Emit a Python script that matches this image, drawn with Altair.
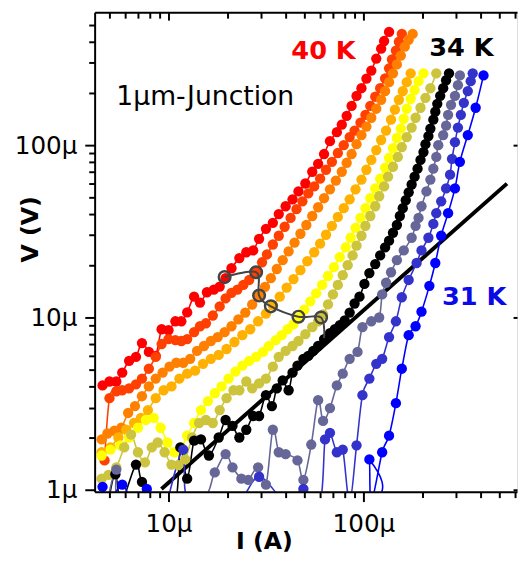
import altair as alt
import pandas as pd

# ---------------- data (I in µA, V in µV) ----------------
temps = ["40 K", "39 K", "38 K", "37 K", "36 K", "35 K", "34 K", "33 K", "32 K", "31 K"]
colors = ["#FF0000", "#FF4000", "#FF8000", "#FFB000", "#FFFF00",
          "#CCC43C", "#000000", "#666699", "#3333CC", "#0000FF"]

I_40 = [4.59, 4.98, 5.40, 5.79, 6.28, 6.81, 7.31, 7.93, 8.60, 9.22, 10.0, 10.85, 11.64, 12.47, 13.53, 14.51,
        15.75, 17.08, 18.31, 19.63, 21.05, 23.10, 25.07, 27.19, 29.16, 31.63, 34.31, 36.79, 39.91, 43.30, 46.43,
        50.37, 54.64, 58.58, 62.82, 67.36, 73.07, 77.45, 82.08, 86.99, 92.21, 97.73, 103.6, 109.8, 116.4, 123.3,
        127.7, 135.4]
V_40 = [4.03, 4.25, 4.25, 4.78, 5.60, 5.90, 7.10, 6.31, 5.99, 8.54, 8.43, 9.50, 9.50, 10.7, 13.2, 12.2, 14.0,
        14.5, 15.1, 16.9, 19.3, 22.1, 23.9, 24.5, 28.6, 32.7, 35.4, 39.8, 44.2, 48.5, 53.9, 59.9, 70.1, 77.9,
        88.8, 105.5, 119, 131.5, 148, 169, 193, 214, 243, 271, 318, 363, 402, 454]

I_39 = [4.70, 4.98, 5.40, 5.79, 6.28, 6.81, 7.31, 7.93, 8.60, 9.22, 10.0, 10.85, 11.64, 12.47, 13.53, 14.51,
        15.56, 16.88, 18.31, 19.63, 21.05, 22.57, 24.21, 25.96, 28.16, 30.19, 32.00, 34.31, 36.79, 39.45, 42.30,
        45.36, 48.64, 52.15, 55.92, 59.96, 64.29, 68.94, 73.92, 79.27, 85.00, 90.09, 96.60, 102.4, 108.5, 115.0,
        121.9, 129.2, 135.4, 140.1, 146.8, 152.0, 157.4]
V_39 = [1.48, 3.40, 3.73, 3.78, 3.88, 4.09, 4.42, 5.04, 5.90, 7.01, 7.49, 7.39, 7.30, 7.49, 8.21, 8.89, 9.25,
        10.26, 11.59, 12.9, 13.9, 14.5, 15.45, 16.5, 18.3, 20.9, 23.2, 26.5, 29.8, 33.6, 37.8, 42.5, 47.2, 52.5,
        57.6, 63.9, 72.0, 80.0, 90.0, 100, 111.4, 121.5, 135, 150, 169, 191, 214, 244, 279, 314, 354, 398, 442]

I_38 = [4.54, 4.86, 5.28, 5.73, 6.21, 6.73, 7.31, 7.93, 8.60, 9.33, 10.12, 10.97, 11.91, 12.92, 14.01, 15.21,
        16.50, 17.89, 19.41, 21.05, 22.84, 24.78, 26.88, 29.16, 31.27, 33.52, 35.95, 38.54, 41.33, 44.32, 47.52,
        50.96, 54.64, 58.58, 62.82, 67.36, 72.22, 77.45, 82.08, 86.99, 92.21, 97.73, 103.6, 109.8, 116.4, 123.3,
        129.2, 135.4, 141.8, 148.5, 155.6, 163.0, 170.7, 178.9]
V_38 = [1.96, 2.12, 2.20, 2.29, 2.79, 3.06, 3.49, 3.98, 4.42, 4.78, 5.18, 5.46, 5.46, 5.75, 6.39, 6.83, 7.30,
        7.69, 8.21, 8.89, 9.75, 10.67, 11.89, 13.4, 15.05, 16.9, 19.1, 21.5, 24.2, 27.2, 30.6, 34.4, 38.8, 43.6,
        49.2, 55.4, 62.3, 70.1, 79.0, 88.8, 101.3, 114.4, 128.1, 144.2, 162.7, 183.4, 206, 232, 261, 294, 331,
        373, 409, 442]

I_37 = [4.54, 5.04, 5.53, 6.07, 6.66, 7.22, 7.84, 8.60, 9.44, 10.36, 11.37, 12.47, 13.69, 15.03, 16.50, 18.10,
        19.86, 21.80, 23.93, 26.26, 28.82, 31.63, 34.31, 37.22, 40.38, 43.80, 47.52, 51.55, 55.92, 59.96, 64.29,
        68.94, 73.92, 79.27, 85.00, 91.14, 97.73, 103.6, 109.8, 116.4, 123.3, 130.7, 138.6, 145.1, 152.0, 159.2,
        166.8, 174.8]
V_37 = [1.65, 1.76, 2.01, 2.23, 2.44, 2.61, 2.90, 3.40, 3.78, 3.98, 4.42, 4.72, 4.91, 5.38, 5.75, 6.06, 6.56,
        7.20, 7.89, 8.54, 9.50, 10.53, 11.74, 13.2, 14.9, 16.7, 18.8, 21.2, 23.9, 26.8, 30.2, 34.0, 38.3, 43.1,
        48.5, 55.4, 63.1, 72.0, 82.1, 93.6, 107.1, 121.5, 140.5, 160.6, 183.4, 206, 232, 261]

I_36 = [4.54, 5.04, 5.66, 6.28, 6.97, 7.65, 8.40, 9.11, 9.88, 10.72, 11.64, 12.47, 13.53, 14.68, 15.93, 17.28,
        18.74, 20.33, 22.05, 23.93, 25.96, 28.16, 30.55, 32.75, 35.53, 38.10, 40.85, 43.80, 46.43, 49.78, 53.38,
        57.24, 61.37, 65.81, 70.56, 75.66, 81.13, 85.99, 91.14, 96.60, 102.4, 108.5, 115.0, 121.9, 129.2, 135.4,
        141.8, 148.5, 155.6, 161.1, 166.8, 174.8, 183.1, 191.8, 203.3]
V_36 = [1.58, 1.71, 1.81, 2.01, 2.29, 2.54, 2.61, 2.29, 1.88, 1.65, 1.76, 2.06, 2.44, 2.90, 3.27, 3.63, 3.98,
        4.42, 4.85, 5.25, 5.60, 5.91, 6.31, 6.83, 7.39, 7.89, 8.54, 9.13, 9.99, 11.1, 12.4, 13.8, 15.45, 17.4,
        19.6, 22.4, 25.5, 29.0, 33.1, 37.8, 43.1, 49.2, 56.1, 63.9, 73.9, 84.3, 96.1, 110.0, 124.8, 142.3, 162.7,
        185.8, 208.9, 235, 261]

I_35 = [4.54, 4.92, 5.40, 5.93, 6.43, 6.97, 7.57, 8.21, 8.80, 9.55, 10.36, 11.24, 12.19, 13.22, 14.35, 15.56,
        16.88, 18.31, 19.86, 21.55, 23.10, 25.07, 26.88, 29.16, 31.63, 34.31, 36.79, 39.91, 43.30, 46.43, 50.37,
        54.64, 58.58, 62.09, 65.81, 69.75, 73.92, 78.35, 83.04, 88.01, 92.21, 97.73, 102.4, 108.5, 115.0, 120.5,
        127.7, 133.8, 141.8, 150.2, 157.4, 166.8, 176.8, 185.2, 196.3, 208.1, 220.6, 236.5]
V_35 = [1.16, 1.22, 1.35, 1.76, 2.09, 1.65, 1.44, 1.76, 1.88, 1.65, 1.40, 1.39, 1.50, 2.01, 2.44, 2.54, 2.44,
        2.90, 3.40, 3.78, 3.78, 4.25, 3.88, 4.14, 4.42, 5.18, 5.91, 6.39, 6.83, 7.30, 8.00, 8.78, 9.50, 10.4,
        11.9, 13.6, 15.45, 17.6, 20.1, 22.9, 26.1, 29.8, 34.0, 38.8, 44.2, 50.5, 57.6, 65.6, 74.9, 85.4, 97.4,
        111.4, 126.4, 144.2, 164.8, 188.2, 214, 261]

I_34 = [4.92, 5.34, 5.73, 6.81, 7.31, 8.80, 10.85, 11.50, 12.47, 13.53, 14.68, 16.12, 18.10, 19.63, 21.30, 23.10,
        25.07, 27.19, 29.16, 31.63, 33.92, 35.95, 38.54, 41.33, 43.30, 45.89, 49.21, 52.15, 55.27, 58.58, 62.82,
        67.36, 71.39, 75.66, 80.19, 85.00, 90.09, 95.48, 101.2, 107.3, 115.0, 121.9, 129.2, 135.4, 141.8, 148.5,
        153.8, 159.2, 164.9, 170.7, 176.8, 183.1, 189.6, 196.3, 203.3, 208.1, 215.5, 220.6, 228.4, 233.8, 239.3,
        247.7, 256.6, 265.6, 275.0]
V_34 = [0.85, 1.23, 0.85, 1.40, 1.11, 0.85, 0.85, 1.76, 1.16, 1.93, 1.96, 1.58, 2.01, 2.54, 2.35, 2.01, 2.23,
        2.68, 2.68, 3.54, 3.06, 3.88, 4.31, 3.78, 4.78, 5.25, 5.75, 5.98, 6.39, 6.83, 7.49, 8.10, 8.54, 9.01,
        9.62, 10.67, 12.05, 13.2, 15.66, 18.1, 20.4, 22.9, 25.5, 27.9, 31.0, 34.4, 38.8, 43.1, 47.9, 53.2, 59.1,
        65.6, 73.0, 82.1, 91.2, 101.3, 112.9, 124.8, 140.5, 156.4, 173.7, 193.3, 214, 238, 261]

I_33 = [4.92, 5.40, 5.86, 14.01, 17.28, 19.63, 21.30, 23.65, 25.66, 28.82, 31.63, 34.31, 36.79, 39.91, 45.89,
        49.21, 54.01, 58.58, 62.09, 67.36, 73.07, 78.35, 85.00, 93.28, 98.87, 109.8, 120.5, 124.8, 130.7, 138.6,
        148.5, 161.1, 176.8, 185.2, 191.8, 198.6, 210.5, 220.6, 228.4, 236.5, 242.1, 256.6, 265.6, 271.9, 281.5,
        294.9, 305.4, 312.6]
V_33 = [0.91, 1.31, 0.85, 0.85, 1.26, 1.61, 1.35, 1.16, 1.14, 1.35, 1.07, 2.23, 1.65, 1.61, 1.48, 1.14, 1.83,
        3.31, 2.51, 2.98, 4.03, 4.72, 5.75, 6.31, 8.78, 9.50, 9.99, 13.6, 15.9, 18.3, 21.5, 24.5, 29.0, 34.0,
        37.8, 44.2, 53.9, 63.1, 73.0, 85.4, 100.0, 114.4, 129.8, 150, 171.4, 193.3, 223, 254]

I_32 = [9.88, 11.91, 12.77, 22.31, 29.16, 39.91, 49.21, 59.96, 63.55, 67.36, 73.07, 78.35, 85.00, 92.21, 98.87,
        107.3, 116.4, 124.8, 135.4, 146.8, 157.4, 170.7, 187.4, 198.6, 215.5, 228.4, 236.5, 250.6, 265.6, 278.3,
        284.8, 294.9, 305.4, 316.2, 327.5, 343.1, 355.2, 363.6]
V_32 = [0.85, 1.71, 0.85, 0.85, 1.19, 0.85, 1.01, 0.85, 1.96, 2.14, 1.65, 1.71, 0.85, 1.81, 3.54, 4.42, 5.38,
        5.75, 7.69, 9.50, 13.1, 16.5, 20.7, 24.5, 29.0, 34.9, 40.3, 47.2, 56.1, 67.4, 83.2, 104, 126.4, 150, 176,
        206, 235, 261]

I_31 = [4.59, 4.92, 5.79, 6.58, 7.74, 8.80, 103.6, 107.3, 109.8, 124.8, 135.4, 146.8, 157.4, 170.7, 185.2,
        198.6, 218.0, 233.8, 250.6, 271.9, 294.9, 312.6, 343.1, 376.5, 413.2]
V_31 = [1.04, 0.85, 1.07, 0.85, 1.01, 0.85, 0.85, 1.50, 0.85, 1.65, 2.06, 3.18, 5.04, 7.89, 8.89, 10.8, 15.25,
        20.7, 29.8, 40.3, 56.1, 80.0, 114.4, 164.8, 254]

# ohmic reference line
ohm_I = [9.2, 545.0]
ohm_V = [1.01, 59.8]

# open-circle transition points and their connecting line
circ_I = [19.41, 28.16, 29.16, 33.52, 46.43, 60.66, 62.82]
circ_V = [17.15, 18.3, 13.4, 11.6, 10.1, 9.99, 7.59]
circ_ring = [True, True, True, True, True, True, False]

# annotations
ann_text = ["40 K", "34 K", "31 K"]
ann_I = [62.4, 318.0, 370.0]
ann_V = [318.0, 331.0, 11.87]
ann_color = ["#FF0000", "#000000", "#0A0AE8"]
junc_text = ["1µm-Junction"]
junc_I = [5.40]
junc_V = [171.5]

# ---------------- tables ----------------
curves = [(I_40, V_40), (I_39, V_39), (I_38, V_38), (I_37, V_37), (I_36, V_36),
          (I_35, V_35), (I_34, V_34), (I_33, V_33), (I_32, V_32), (I_31, V_31)]
rows = []
for t, (Is, Vs) in zip(temps, curves):
    for k, (i, v) in enumerate(zip(Is, Vs)):
        rows.append({"T": t, "I": i, "V": v, "k": k})
df = pd.DataFrame(rows)
ohm_df = pd.DataFrame({"I": ohm_I, "V": ohm_V})
circ_df = pd.DataFrame({"I": circ_I, "V": circ_V, "ring": circ_ring, "k": list(range(len(circ_I)))})
ann_df = pd.DataFrame({"label": ann_text, "I": ann_I, "V": ann_V, "color": ann_color})
junc_df = pd.DataFrame({"label": junc_text, "I": junc_I, "V": junc_V})

# ---------------- scales & axes ----------------
W, H = 429, 487
FONT = "DejaVu Sans"
xs = alt.Scale(type="log", domain=[4.18, 613.8], nice=False)
ys = alt.Scale(type="log", domain=[0.974, 590.7], nice=False)
major_x = [10, 100]
minor_x = [5, 6, 7, 8, 9, 20, 30, 40, 50, 60, 70, 80, 90, 200, 300, 400, 500, 600]
major_y = [1, 10, 100]
minor_y = [2, 3, 4, 5, 6, 7, 8, 9, 20, 30, 40, 50, 60, 70, 80, 90, 200, 300, 400, 500]

ax_b_major = alt.Axis(orient="bottom", values=major_x, labelExpr="datum.value + 'µ'",
                      tickSize=10, tickWidth=2, tickColor="black",
                      domain=True, domainWidth=2, domainColor="black",
                      labelFont=FONT, labelFontSize=25, labelColor="black", labelPadding=10,
                      labelFlush=False, labelOverlap=False, grid=False,
                      title="I (A)", titleFont=FONT, titleFontSize=24, titleFontWeight="bold",
                      titleColor="black", titleX=172, titleY=58, titleAlign="center",
                      titleBaseline="alphabetic", zindex=1)
ax_b_minor = alt.Axis(orient="bottom", values=minor_x, tickSize=6, tickWidth=2, tickColor="black",
                      labels=False, domain=False, grid=False, title=None)
ax_t_major = alt.Axis(orient="bottom", offset=-H, values=major_x, tickSize=8, tickWidth=2,
                      tickColor="black", labels=False, domain=True, domainWidth=2,
                      domainColor="black", grid=False, title=None, zindex=1)
ax_t_minor = alt.Axis(orient="bottom", offset=-H, values=minor_x, tickSize=6, tickWidth=2,
                      tickColor="black", labels=False, domain=False, grid=False, title=None)
ax_l_major = alt.Axis(orient="left", values=major_y, labelExpr="datum.value + 'µ'",
                      tickSize=10, tickWidth=2, tickColor="black",
                      domain=True, domainWidth=2, domainColor="black",
                      labelFont=FONT, labelFontSize=25, labelColor="black", labelPadding=8,
                      labelFlush=False, labelOverlap=False, grid=False,
                      title="V (V)", titleFont=FONT, titleFontSize=24, titleFontWeight="bold",
                      titleColor="black", titleX=-58, titleY=220, titleAngle=270,
                      titleAlign="center", titleBaseline="alphabetic", zindex=1)
ax_l_minor = alt.Axis(orient="left", values=minor_y, tickSize=6, tickWidth=2, tickColor="black",
                      labels=False, domain=False, grid=False, title=None)
ax_r_major = alt.Axis(orient="left", offset=-W, values=major_y, tickSize=4, tickWidth=2,
                      tickColor="black", labels=False, domain=False, grid=False, title=None)

color_enc = alt.Color("T:N", scale=alt.Scale(domain=temps, range=colors), legend=None)

thick = alt.Chart(ohm_df).mark_line(color="black", strokeWidth=4, clip=True, strokeCap="butt").encode(
    x=alt.X("I:Q", scale=xs, axis=ax_b_major),
    y=alt.Y("V:Q", scale=ys, axis=ax_l_major),
)
lines = alt.Chart(df).mark_line(strokeWidth=1.6, interpolate="cardinal", clip=True).encode(
    x=alt.X("I:Q", scale=xs, axis=ax_b_minor),
    y=alt.Y("V:Q", scale=ys, axis=ax_l_minor),
    color=color_enc,
    order="k:Q",
)
points = alt.Chart(df).mark_circle(size=110, opacity=1, clip=True).encode(
    x=alt.X("I:Q", scale=xs, axis=ax_t_major),
    y=alt.Y("V:Q", scale=ys, axis=ax_r_major),
    color=color_enc,
)
cline = alt.Chart(circ_df).mark_line(color="#444444", strokeWidth=2, interpolate="cardinal", clip=True).encode(
    x=alt.X("I:Q", scale=xs, axis=ax_t_minor),
    y=alt.Y("V:Q", scale=ys, axis=None),
    order="k:Q",
)
cpts = alt.Chart(circ_df).transform_filter("datum.ring").mark_point(
    shape="circle", filled=False, size=140, strokeWidth=2.5, color="#444444", opacity=1, clip=True
).encode(
    x=alt.X("I:Q", scale=xs, axis=None),
    y=alt.Y("V:Q", scale=ys, axis=None),
)
labels = alt.Chart(ann_df).mark_text(font=FONT, fontSize=26, fontWeight="bold",
                                     align="center", baseline="alphabetic").encode(
    x=alt.X("I:Q", scale=xs, axis=None),
    y=alt.Y("V:Q", scale=ys, axis=None),
    text="label:N",
    color=alt.Color("color:N", scale=None),
)
junc = alt.Chart(junc_df).mark_text(font=FONT, fontSize=27, align="left", baseline="alphabetic",
                                    color="black").encode(
    x=alt.X("I:Q", scale=xs, axis=None),
    y=alt.Y("V:Q", scale=ys, axis=None),
    text="label:N",
)

chart = alt.layer(thick, lines, points, cline, cpts, labels, junc).resolve_axis(
    x="independent", y="independent"
).properties(
    width=W, height=H,
    padding={"left": 88, "top": 0, "right": 1, "bottom": 62},
    autosize=alt.AutoSizeParams(type="none"),
).configure_view(strokeOpacity=0).configure(background="white")

chart.save("out.html", embed_options={"renderer": "svg", "actions": False})
